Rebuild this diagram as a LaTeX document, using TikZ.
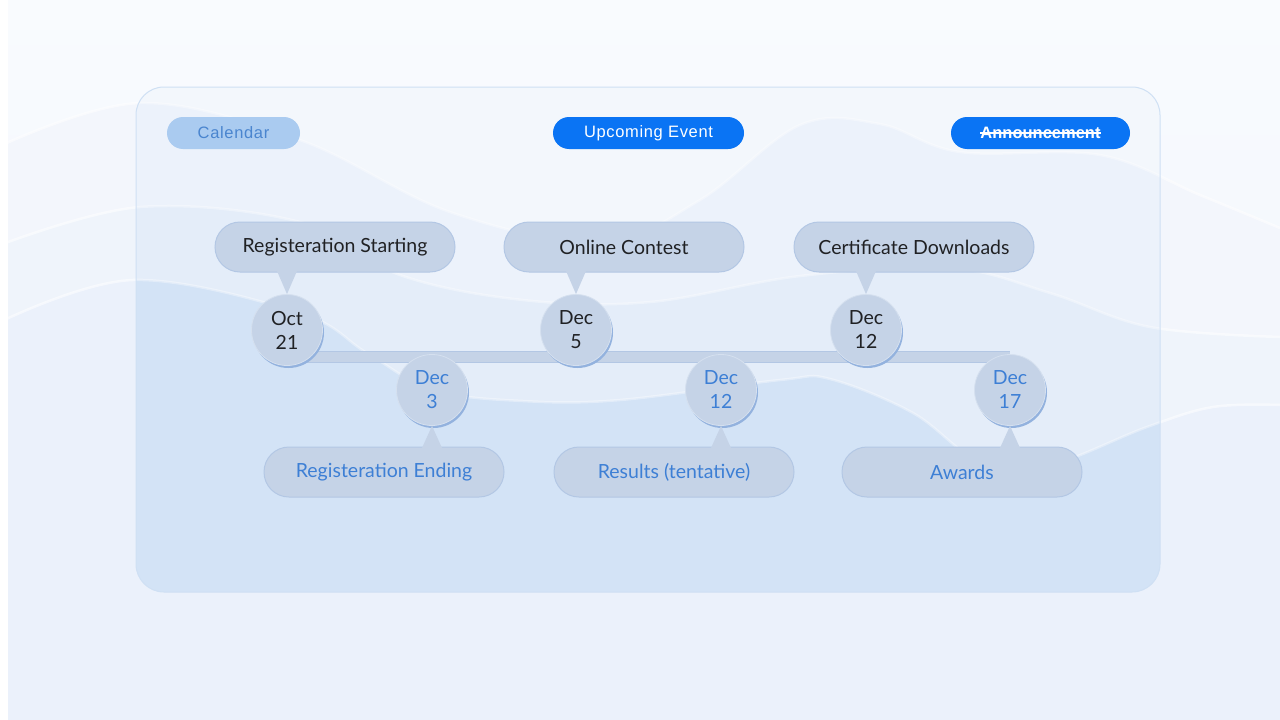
\documentclass[tikz,border=0pt]{standalone}
\usepackage{fontspec}
\setmainfont{Lato}
\newfontfamily\btnfont[LetterSpace=4]{Liberation Sans}
\newfontfamily\btnplain{Liberation Sans}
\newlength{\strikew}
\newcommand{\strikeout}[1]{\settowidth{\strikew}{#1}\rlap{#1}\raisebox{0.3em}{\rule{\strikew}{1.6pt}}}
\usepackage{xcolor}
\usepackage{tikz}
\usetikzlibrary{shapes.misc}
\usetikzlibrary{shadows}
\definecolor{bgtop}{HTML}{F9FBFE}
\definecolor{bgbot}{HTML}{EDF3FC}
\definecolor{waveone}{HTML}{F3F6FC}
\definecolor{wavetwo}{HTML}{EFF4FB}
\definecolor{wavethree}{HTML}{EBF1FB}
\definecolor{pantop}{HTML}{F3F7FC}
\definecolor{panone}{HTML}{ECF2FB}
\definecolor{pantwo}{HTML}{E4EDF9}
\definecolor{panthree}{HTML}{D3E3F6}
\definecolor{panrim}{HTML}{CFE0F4}
\definecolor{bubble}{HTML}{C5D3E7}
\definecolor{rimblue}{HTML}{93B2DE}
\definecolor{rimlight}{HTML}{D5E0EF}
\definecolor{callrim}{HTML}{B3C7E4}
\definecolor{ink}{HTML}{202124}
\definecolor{inkblue}{HTML}{3D7FD5}
\definecolor{btnblue}{HTML}{0A74F4}
\definecolor{btnpale}{HTML}{AACBF0}
\definecolor{btnpaletext}{HTML}{4A85CF}
\newcommand{\waveA}{plot[smooth, tension=0.6] coordinates {(0,146) (140,103) (300,140) (450,212) (600,242) (700,200) (800,125) (880,124) (960,152) (1100,155) (1200,195) (1280,228)}}
\newcommand{\waveB}{plot[smooth, tension=0.6] coordinates {(0,245) (140,207) (300,222) (400,275) (523,300) (650,302) (800,276) (950,268) (1050,293) (1150,327) (1280,337)}}
\newcommand{\waveC}{plot[smooth, tension=0.6] coordinates {(0,322) (133,280) (300,313) (367,353) (433,390) (523,401) (620,400) (780,380) (830,379) (913,413) (980,462) (1047,466) (1147,427) (1213,407) (1280,405)}}
\tikzset{
    tnode/.style = {align=center, inner sep=0pt, text centered},
    date_node/.style = {tnode, circle, minimum size=71pt, fill=bubble, draw=rimlight, line width=0.8pt, font=\fontsize{19.5}{24}\selectfont,
        general shadow={fill=rimblue, shadow xshift=1.5pt, shadow yshift=-2.5pt}},
    top_date/.style = {date_node, text=ink},
    bot_date/.style = {date_node, text=inkblue},
    call_node/.style = {tnode, rounded rectangle, minimum width=240pt, minimum height=50pt, fill=bubble, draw=callrim, line width=1pt, font=\fontsize{19.5}{22}\selectfont},
    top_call/.style = {call_node, text=ink},
    bot_call/.style = {call_node, text=inkblue},
    call_tip/.style = {fill=bubble},
    wave_edge/.style = {white, line width=2.5pt, opacity=0.55},
    btn_node/.style = {tnode, rounded rectangle, minimum height=32pt, font=\btnfont\fontsize{16.5}{18}\selectfont},
    bar_line/.style = {draw=callrim, double=bubble, double distance=9.5pt, line width=1pt}
}
\begin{document}
\begin{tikzpicture}[x=1pt, y=-1pt]
\useasboundingbox (0,0) rectangle (1280,720);
% background and waves
\shade[top color=bgtop, bottom color=bgbot] (0,0) rectangle (1280,720);
\fill[waveone] \waveA -- (1280,720) -- (0,720) -- cycle;
\draw[wave_edge] \waveA;
\fill[wavetwo] \waveB -- (1280,720) -- (0,720) -- cycle;
\draw[wave_edge] \waveB;
\fill[wavethree] \waveC -- (1280,720) -- (0,720) -- cycle;
\draw[wave_edge] \waveC;
\fill[white] (0,0) rectangle (8,720);
% glass panel
\begin{scope}
    \clip[rounded corners=28pt] (136,87) rectangle (1160,592);
    \fill[pantop] (136,87) rectangle (1160,592);
    \fill[panone] \waveA -- (1280,720) -- (0,720) -- cycle;
    \draw[wave_edge, opacity=0.35] \waveA;
    \fill[pantwo] \waveB -- (1280,720) -- (0,720) -- cycle;
    \draw[wave_edge, opacity=0.35] \waveB;
    \fill[panthree] \waveC -- (1280,720) -- (0,720) -- cycle;
    \draw[wave_edge, opacity=0.35] \waveC;
\end{scope}
\draw[panrim, line width=1pt, rounded corners=28pt] (136,87) rectangle (1160,592);
% tabs
\node[btn_node, minimum width=133pt, fill=btnpale, text=btnpaletext] (tabCal) at (233.5,133) {Calendar};
\node[btn_node, minimum width=191pt, fill=btnblue, text=white] (tabEvent) at (648.5,133) {Upcoming Event};
\node[btn_node, minimum width=179pt, fill=btnblue, text=white] (tabNews) at (1040.5,133) {\btnplain\bfseries\strikeout{Announcement}};
% timeline bar
\coordinate (barL) at (287,357);
\coordinate (barR) at (1010,357);
\draw[bar_line] (barL) -- (barR);
% event callouts
\node[top_call] (evStart) at (335,247) {Registeration Starting};
\node[top_call] (evContest) at (624,247) {Online Contest};
\node[top_call] (evCert) at (914,247) {Certificate Downloads};
\node[bot_call] (evEnd) at (384,472) {Registeration Ending};
\node[bot_call] (evResult) at (674,472) {Results (tentative)};
\node[bot_call] (evAward) at (962,472) {Awards};
% dates
\node[top_date] (dOct) at (287,330) {Oct\\21};
\node[top_date] (dDecFive) at (576,330) {Dec\\5};
\node[top_date] (dDecTwelveA) at (866,330) {Dec\\12};
\node[bot_date] (dDecThree) at (432,390) {Dec\\3};
\node[bot_date] (dDecTwelveB) at (721,390) {Dec\\12};
\node[bot_date] (dDecSeventeen) at (1010,390) {Dec\\17};
% pointers
\foreach \ev/\dt in {evStart/dOct, evContest/dDecFive, evCert/dDecTwelveA}{
    \coordinate (tip) at (\ev.south -| \dt);
    \fill[call_tip] ([xshift=-10pt, yshift=1.5pt]tip) -- (\dt.north) -- ([xshift=10pt, yshift=1.5pt]tip) -- cycle;
}
\foreach \ev/\dt in {evEnd/dDecThree, evResult/dDecTwelveB, evAward/dDecSeventeen}{
    \coordinate (tip) at (\ev.north -| \dt);
    \fill[call_tip] ([xshift=-10pt, yshift=-1.5pt]tip) -- (\dt.south) -- ([xshift=10pt, yshift=-1.5pt]tip) -- cycle;
}
\end{tikzpicture}
\end{document}
